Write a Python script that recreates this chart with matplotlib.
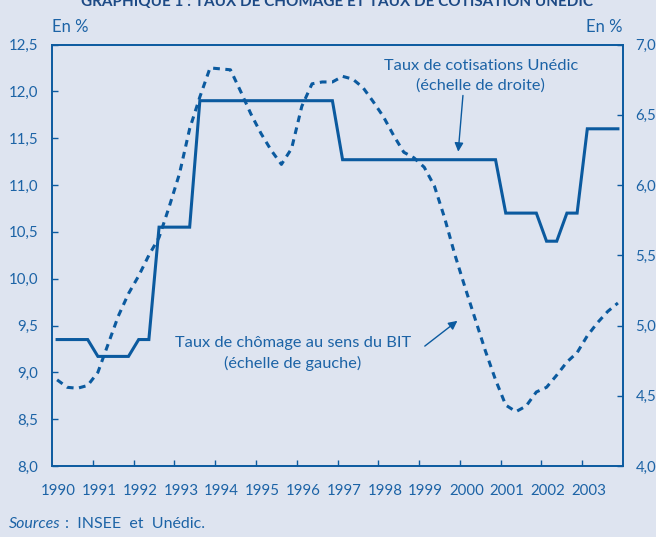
import numpy as np
import matplotlib.pyplot as plt

# quarterly data, 1990Q1 - 2003Q4
years = list(range(1990, 2004))
quarters = np.arange(1990, 2004, 0.25) + 0.125

# taux de chomage au sens du BIT (echelle de gauche)
chomage = [8.92, 8.84, 8.83, 8.86,
           9.00, 9.30, 9.60, 9.84,
           10.03, 10.25, 10.44, 10.77,
           11.12, 11.60, 11.94, 12.25,
           12.24, 12.23, 12.00, 11.76,
           11.55, 11.37, 11.22, 11.39,
           11.84, 12.08, 12.10, 12.10,
           12.16, 12.13, 12.04, 11.89,
           11.73, 11.53, 11.35, 11.29,
           11.19, 10.99, 10.65, 10.26,
           9.91, 9.57, 9.23, 8.92,
           8.65, 8.58, 8.64, 8.79,
           8.84, 8.97, 9.11, 9.21,
           9.39, 9.53, 9.65, 9.74]

# taux de cotisations Unedic (echelle de droite)
cotisation = [4.90, 4.90, 4.90, 4.90,
              4.78, 4.78, 4.78, 4.78,
              4.90, 4.90, 5.70, 5.70,
              5.70, 5.70, 6.60, 6.60,
              6.60, 6.60, 6.60, 6.60,
              6.60, 6.60, 6.60, 6.60,
              6.60, 6.60, 6.60, 6.60,
              6.18, 6.18, 6.18, 6.18,
              6.18, 6.18, 6.18, 6.18,
              6.18, 6.18, 6.18, 6.18,
              6.18, 6.18, 6.18, 6.18,
              5.80, 5.80, 5.80, 5.80,
              5.60, 5.60, 5.80, 5.80,
              6.40, 6.40, 6.40, 6.40]

left_ticks = [8.0, 8.5, 9.0, 9.5, 10.0, 10.5, 11.0, 11.5, 12.0, 12.5]
right_ticks = [4.0, 4.5, 5.0, 5.5, 6.0, 6.5, 7.0]

bg = '#dee4f0'
blue = '#0b5a9f'
txt = '#1c63a6'

plt.rcParams['font.family'] = ['Lato', 'DejaVu Sans']

fig = plt.figure(figsize=(6.56, 5.37), dpi=100, facecolor=bg)
ax = fig.add_axes([52 / 656, 1 - 466 / 537, 571 / 656, 421.5 / 537])
ax.set_facecolor(bg)
ax2 = ax.twinx()

ax.plot(quarters, chomage, color=blue, lw=2.2, dashes=(2.2, 1.8), zorder=3)
ax2.plot(quarters, cotisation, color=blue, lw=2.2, solid_joinstyle='miter')

ax.set_xlim(1990, 2004)
ax.set_ylim(8.0, 12.5)
ax2.set_ylim(4.0, 7.0)

fmt = lambda v: f'{v:.1f}'.replace('.', ',')
ax.set_yticks(left_ticks)
ax.set_yticklabels([fmt(v) for v in left_ticks])
ax2.set_yticks(right_ticks)
ax2.set_yticklabels([fmt(v) for v in right_ticks])

ax.set_xticks(years[1:])
ax.set_xticklabels([])
ax.set_xticks([y + 0.16 for y in years], minor=True)
ax.set_xticklabels([str(y) for y in years], minor=True)
ax.tick_params(axis='x', which='major', direction='in', length=4, width=1, color=blue)
ax.tick_params(axis='x', which='minor', length=0, pad=13, labelsize=10.8, labelcolor=txt)
ax.tick_params(axis='y', direction='in', length=4, width=1, color=blue,
               pad=10, labelsize=10.8, labelcolor=txt)
ax2.tick_params(axis='y', direction='in', length=4, width=1, color=blue,
                pad=9, labelsize=10.8, labelcolor=txt)

for a in (ax, ax2):
    for s in a.spines.values():
        s.set_color(blue)
        s.set_linewidth(1.2)

ax2.annotate('Taux de cotisations Unédic\n(échelle de droite)',
             xy=(1999.96, 6.237), xytext=(2000.51, 6.776),
             ha='center', va='center', fontsize=11.8, color=txt, linespacing=1.45,
             arrowprops=dict(arrowstyle='-|>', color=blue, lw=1, mutation_scale=13,
                             shrinkA=0, shrinkB=0, relpos=(0.41, 0.0)))
ax.annotate('', xy=(1999.94, 9.55), xytext=(1999.14, 9.28),
            arrowprops=dict(arrowstyle='-|>', color=blue, lw=1, mutation_scale=13,
                            shrinkA=0, shrinkB=0))
ax.text(1995.91, 9.20, 'Taux de chômage au sens du BIT\n(échelle de gauche)',
        ha='center', va='center', fontsize=11.8, color=txt, linespacing=1.45)

fig.text(52 / 656, 1 - 27 / 537, 'En %', ha='left', va='center', fontsize=12, color=txt)
fig.text(623 / 656, 1 - 27 / 537, 'En %', ha='right', va='center', fontsize=12, color=txt)
fig.text(337 / 656, 1 - 5.5 / 537,
         'GRAPHIQUE 1 : TAUX DE CHÔMAGE ET TAUX DE COTISATION UNÉDIC',
         ha='center', va='baseline', fontsize=11, fontweight='bold', color='#1d4a85')
fig.text(9 / 656, 1 - 524 / 537, 'Sources', style='italic', ha='left', va='center',
         fontsize=11.5, color=txt)
fig.text(65 / 656, 1 - 524 / 537, ':  INSEE  et  Unédic.', ha='left', va='center',
         fontsize=11.5, color=txt)

fig.savefig('out.png', dpi=100, facecolor=bg)
